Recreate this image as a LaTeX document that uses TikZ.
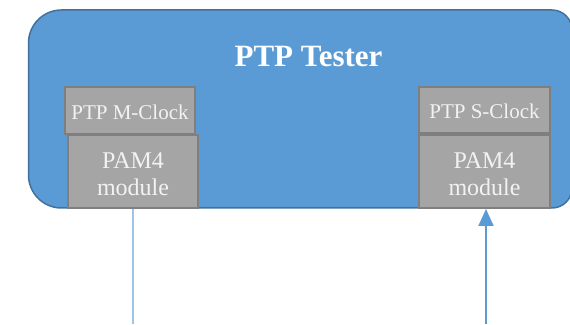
\documentclass[tikz,border=0pt]{standalone}
\usepackage{fontspec}
\setmainfont{Liberation Serif}
\usetikzlibrary{arrows.meta}
\definecolor{testerfill}{HTML}{5B9BD5}
\definecolor{testerdraw}{HTML}{41719C}
\definecolor{boxfill}{HTML}{A5A5A5}
\definecolor{boxdraw}{HTML}{7F7F7F}
\definecolor{boxtext}{HTML}{F2F2F2}
\definecolor{linklight}{HTML}{9DC3E6}
\tikzset{
  graybox/.style={draw=boxdraw, fill=boxfill, line width=2pt, inner sep=0pt},
  boxlabel/.style={text=boxtext, inner sep=0pt, align=center},
  clocktext/.style={boxlabel, font=\fontsize{21}{24}\selectfont},
  pamtext/.style={boxlabel, font=\fontsize{24}{27}\selectfont},
}
\begin{document}
\begin{tikzpicture}[x=1pt,y=1pt]
\useasboundingbox (0,0) rectangle (570,324);
\begin{scope}
\clip (0,0) rectangle (570,324);
\draw[fill=testerfill, draw=testerdraw, line width=1.5pt]
  (61.5,314) -- (552,314) arc[start angle=90,end angle=0,radius=20]
  -- (572,136) arc[start angle=0,end angle=-90,radius=20]
  -- (61.5,116) arc[start angle=270,end angle=180,radius=33]
  -- (28.5,281) arc[start angle=180,end angle=90,radius=33] -- cycle;
\end{scope}
\node[text=white, font=\fontsize{31}{34}\selectfont\bfseries] (title) at (308.5,267) {PTP Tester};
\node[graybox, minimum width=130pt, minimum height=47pt] (mclock) at (130,213.5) {};
\node[clocktext] (mclocktext) at ([yshift=-1.5pt]mclock.center) {PTP M-Clock};
\node[graybox, minimum width=130pt, minimum height=73pt] (paml) at (133,152.5) {};
\node[pamtext] (pamltext) at ([yshift=-2.5pt]paml.center) {PAM4\\module};
\node[graybox, minimum width=131pt, minimum height=46pt] (sclock) at (484.5,214) {};
\node[clocktext] (sclocktext) at ([yshift=-1.5pt]sclock.center) {PTP S-Clock};
\node[graybox, minimum width=131pt, minimum height=73pt] (pamr) at (484.5,152.5) {};
\node[pamtext] (pamrtext) at ([yshift=-2.5pt]pamr.center) {PAM4\\module};
\coordinate (lend) at (133,0);
\coordinate (rstart) at (486,0);
\draw[linklight, line width=2pt] (paml.south) -- (lend);
\draw[testerfill, line width=2pt, -{Triangle[width=15pt,length=17pt]}] (rstart) -- (rstart |- pamr.south);
\end{tikzpicture}
\end{document}
